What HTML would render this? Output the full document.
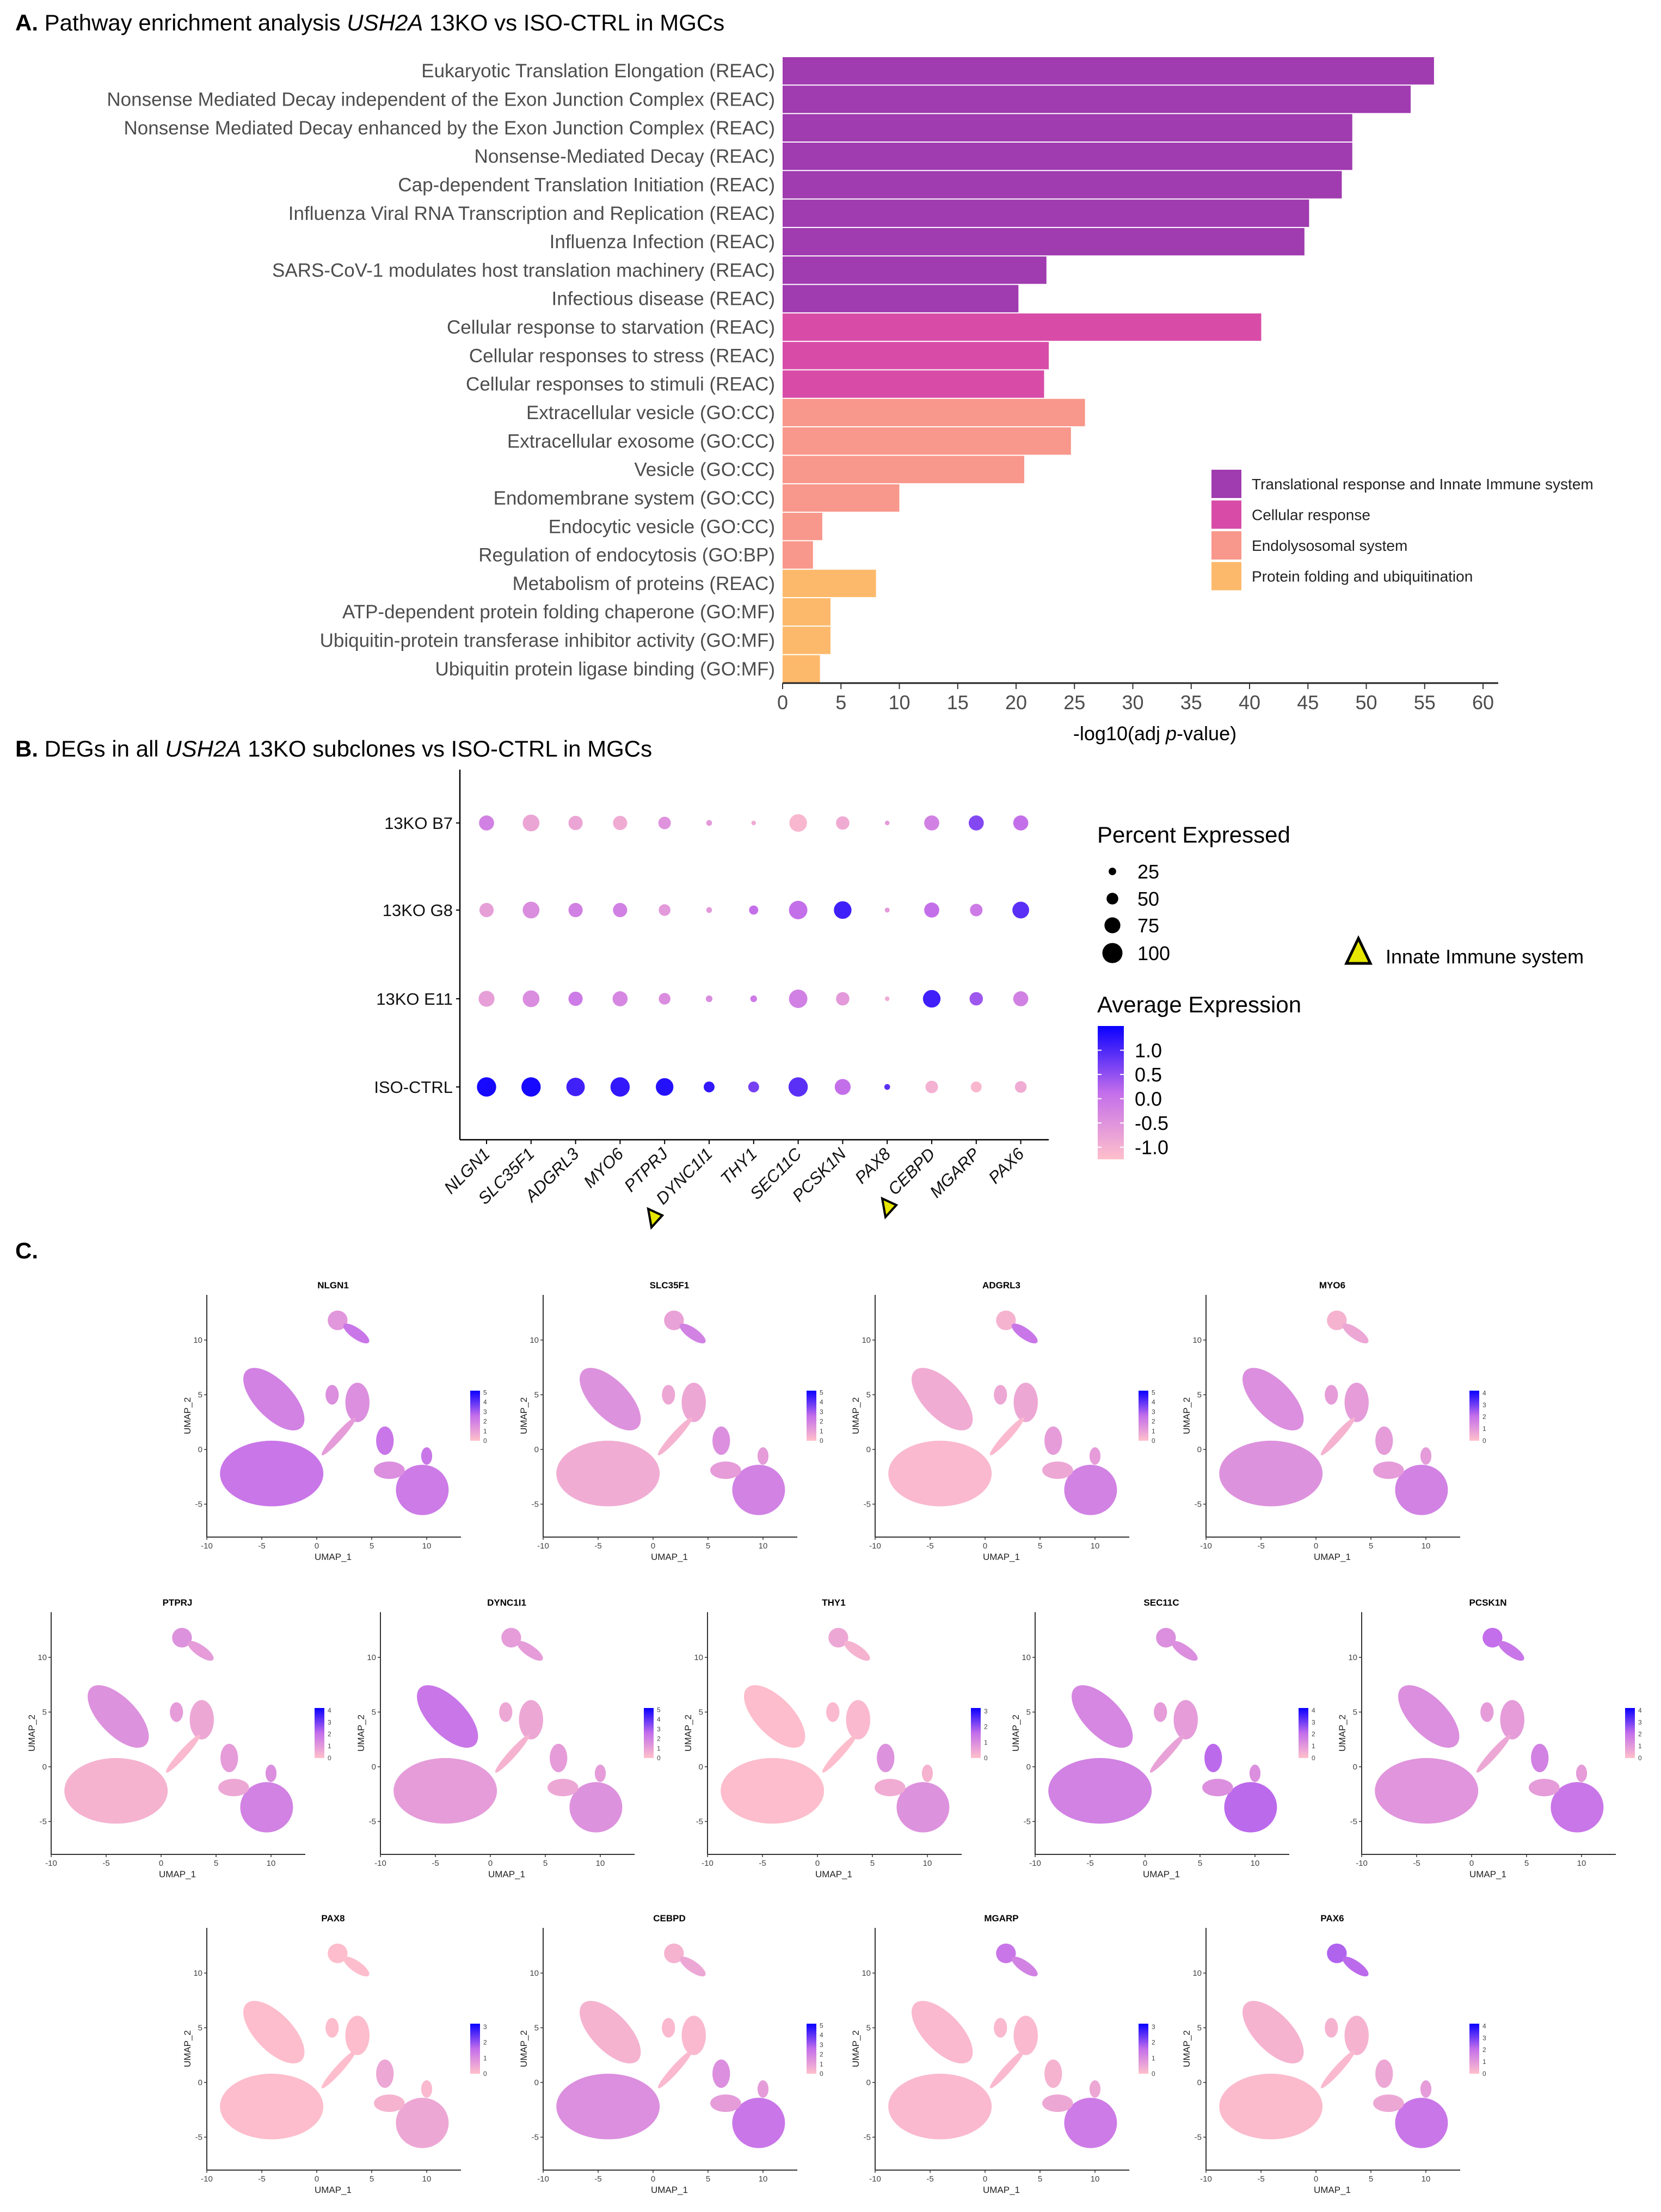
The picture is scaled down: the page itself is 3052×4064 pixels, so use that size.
<!DOCTYPE html>
<html><head><meta charset="utf-8">
<style>
html,body{margin:0;padding:0;background:#fff;}
svg{display:block;font-family:"Liberation Sans",Arial,sans-serif;}
</style></head>
<body>
<svg id="fig" xmlns="http://www.w3.org/2000/svg" width="3052" height="4064" viewBox="0 0 3052 4064">
<rect width="3052" height="4064" fill="#fff"/>
<g id="panelA">
  <text x="28" y="56" font-size="42" fill="#000"><tspan font-weight="bold">A.</tspan>  Pathway enrichment analysis <tspan font-style="italic">USH2A</tspan> 13KO vs ISO-CTRL in MGCs</text>
</g>
<g id="panelB">
  <text x="28" y="1390" font-size="42" fill="#000"><tspan font-weight="bold">B.</tspan>  DEGs in all <tspan font-style="italic">USH2A</tspan> 13KO subclones vs ISO-CTRL in MGCs</text>
</g>
<g id="panelC">
  <text x="28" y="2312" font-size="42" font-weight="bold" fill="#000">C.</text>
</g>
</svg>
<script>
// ---------- Panel A data ----------
const pathways = ["Eukaryotic Translation Elongation (REAC)","Nonsense Mediated Decay independent of the Exon Junction Complex (REAC)","Nonsense Mediated Decay enhanced by the Exon Junction Complex (REAC)","Nonsense-Mediated Decay (REAC)","Cap-dependent Translation Initiation (REAC)","Influenza Viral RNA Transcription and Replication (REAC)","Influenza Infection (REAC)","SARS-CoV-1 modulates host translation machinery (REAC)","Infectious disease (REAC)","Cellular response to starvation (REAC)","Cellular responses to stress (REAC)","Cellular responses to stimuli (REAC)","Extracellular vesicle (GO:CC)","Extracellular exosome (GO:CC)","Vesicle (GO:CC)","Endomembrane system (GO:CC)","Endocytic vesicle (GO:CC)","Regulation of endocytosis (GO:BP)","Metabolism of proteins (REAC)","ATP-dependent protein folding chaperone (GO:MF)","Ubiquitin-protein transferase inhibitor activity (GO:MF)","Ubiquitin protein ligase binding (GO:MF)"];
const pathwayValues = [55.8,53.8,48.8,48.8,47.9,45.1,44.7,22.6,20.2,41.0,22.8,22.4,25.9,24.7,20.7,10.0,3.4,2.6,8.0,4.1,4.1,3.2];
const pathwayGroup = [0,0,0,0,0,0,0,0,0,1,1,1,2,2,2,2,2,2,3,3,3,3];
const groupNames = ["Translational response and Innate Immune system","Cellular response","Endolysosomal system","Protein folding and ubiquitination"];
const groupColors = ["#A03BB0","#D84CA8","#F8978B","#FDB96B"];
const xTicksA = [0,5,10,15,20,25,30,35,40,45,50,55,60];

// ---------- Panel B data ----------
const genes = ["NLGN1","SLC35F1","ADGRL3","MYO6","PTPRJ","DYNC1I1","THY1","SEC11C","PCSK1N","PAX8","CEBPD","MGARP","PAX6"];
const groups = ["13KO B7","13KO G8","13KO E11","ISO-CTRL"];
const avgB7  = [-0.2,-0.8,-0.8,-0.9,-0.5,-0.6,-0.9,-1.1,-0.9,-0.6,-0.2,0.6,0.1];
const avgG8  = [-0.7,-0.4,-0.2,-0.2,-0.6,-0.6,0.1,0.1,1.1,-0.6,0.1,-0.1,0.9];
const avgE11 = [-0.7,-0.4,-0.1,-0.3,-0.4,-0.4,-0.1,-0.2,-0.6,-0.9,1.1,0.4,-0.2];
const avgISO = [1.4,1.4,1.1,1.2,1.3,1.2,0.7,0.9,0.1,0.9,-1.0,-1.1,-0.9];
const pctB7  = [70,80,65,65,55,15,8,85,60,8,70,70,70];
const pctG8  = [65,80,65,65,50,15,35,90,85,10,70,55,80];
const pctE11 = [75,80,65,70,50,20,20,90,60,8,85,60,70];
const pctISO = [95,95,90,95,85,45,45,95,75,15,55,45,50];
const pctLegend = [25,50,75,100];
const avgLegend = [1.0,0.5,0.0,-0.5,-1.0];

// ---------- Panel C data ----------
const umapGenes = ["NLGN1","SLC35F1","ADGRL3","MYO6","PTPRJ","DYNC1I1","THY1","SEC11C","PCSK1N","PAX8","CEBPD","MGARP","PAX6"];
const umapMax = [5,5,5,4,4,5,3,4,4,3,5,3,4];
// clusters: bigLeft, upperLeft, topBlob, topTail, hook, hookTop, tail, rightBlob, rightMid, rightSmall1, rightSmall2
const clusterCx = [-4.1,-3.9,1.9,3.6,3.7,1.4,2.0,9.6,6.6,6.2,10.0];
const clusterCy = [-2.2,4.6,11.8,10.6,4.3,5.0,1.2,-3.7,-1.9,0.8,-0.6];
const clusterRx = [4.7,3.6,0.9,1.4,1.1,0.6,2.3,2.4,1.4,0.8,0.5];
const clusterRy = [3.0,1.7,0.9,0.5,1.8,0.9,0.35,2.3,0.8,1.3,0.8];
const clusterRot = [0,-46,0,-35,0,0,48,0,0,0,0];
const exprNLGN1  = [0.45,0.38,0.25,0.45,0.30,0.30,0.22,0.42,0.30,0.45,0.45];
const exprSLC35F1= [0.12,0.28,0.18,0.38,0.15,0.15,0.08,0.38,0.22,0.30,0.22];
const exprADGRL3 = [0.04,0.12,0.08,0.45,0.15,0.15,0.04,0.38,0.15,0.22,0.22];
const exprMYO6   = [0.28,0.30,0.08,0.15,0.22,0.22,0.08,0.38,0.22,0.22,0.22];
const exprPTPRJ  = [0.08,0.28,0.28,0.22,0.15,0.22,0.04,0.38,0.15,0.22,0.30];
const exprDYNC1I1= [0.22,0.45,0.22,0.22,0.15,0.15,0.08,0.28,0.15,0.22,0.22];
const exprTHY1   = [0.02,0.02,0.15,0.08,0.04,0.04,0.02,0.28,0.12,0.28,0.08];
const exprSEC11C = [0.38,0.35,0.30,0.30,0.22,0.22,0.18,0.52,0.30,0.52,0.30];
const exprPCSK1N = [0.26,0.30,0.50,0.45,0.22,0.22,0.15,0.45,0.22,0.38,0.22];
const exprPAX8   = [0.02,0.02,0.02,0.02,0.02,0.02,0.02,0.15,0.08,0.15,0.04];
const exprCEBPD  = [0.30,0.08,0.08,0.15,0.04,0.04,0.04,0.45,0.22,0.30,0.22];
const exprMGARP  = [0.04,0.04,0.45,0.38,0.04,0.04,0.04,0.42,0.15,0.08,0.15];
const exprPAX6   = [0.03,0.08,0.55,0.52,0.08,0.08,0.04,0.45,0.15,0.15,0.22];
const umapTitleX = [612,1230,1840,2448, 326,931,1532,2134,2734, 612,1230,1840,2448];
const umapTitleY = [2361,2361,2361,2361, 2944,2944,2944,2944,2944, 3524,3524,3524,3524];

const NS="http://www.w3.org/2000/svg";
function mk(tag,attrs,parent,txt){const e=document.createElementNS(NS,tag);for(const k in attrs)e.setAttribute(k,attrs[k]);if(txt!==undefined)e.textContent=txt;parent.appendChild(e);return e;}
function mix(t){t=Math.max(0,Math.min(1,t));const a=[255,192,203],b=[10,0,255];
  const m=[195,110,235];let c;
  if(t<0.5){const u=t/0.5;c=a.map((v,i)=>v+(m[i]-v)*u);}else{const u=(t-0.5)/0.5;c=m.map((v,i)=>v+(b[i]-v)*u);}
  return "rgb("+c.map(v=>Math.round(v)).join(",")+")";}

// ---------- Panel A ----------
(function(){
  const g=document.getElementById('panelA');
  const x0=1438, pxPerUnit=(2725-1438)/60, top=104, pitch=(1255-104)/22, bh=pitch-2;
  const X=v=>x0+v*pxPerUnit;
  pathways.forEach((p,i)=>{
    const y=top+i*pitch;
    const r=mk('rect',{x:X(0),y:y+1,width:X(pathwayValues[i])-X(0),height:bh,fill:groupColors[pathwayGroup[i]]},g);
    
    
    const t=mk('text',{x:1424,y:y+pitch/2+12,'font-size':35,'text-anchor':'end',fill:'#4d4d4d'},g,p);
    
    
  });
  const ax=mk('line',{x1:X(0),y1:1255,x2:X(61.3),y2:1255,stroke:'#222','stroke-width':3},g);
  
  
  xTicksA.forEach(v=>{
    mk('line',{x1:X(v),y1:1255,x2:X(v),y2:1266,stroke:'#333','stroke-width':2},g);
    const t=mk('text',{x:X(v),y:1303,'font-size':36,'text-anchor':'middle',fill:'#4d4d4d'},g,String(v));
    
    
  });
  const at=mk('text',{x:2122,y:1360,'font-size':36,'text-anchor':'middle',fill:'#000'},g);
  
  
  at.innerHTML='-log10(adj <tspan font-style="italic">p</tspan>-value)';
  groupNames.forEach((n,i)=>{
    const y=863+i*56.5;
    const r=mk('rect',{x:2226,y:y,width:55,height:52,fill:groupColors[i]},g);
    
    
    const t=mk('text',{x:2300,y:y+36,'font-size':28,fill:'#222'},g,n);
    
    
  });
})();

// ---------- Panel B ----------
(function(){
  const g=document.getElementById('panelB');
  const colX=i=>894+i*81.8;
  const rowY=[1512,1672,1835,1997];
  const avgRows=[avgB7,avgG8,avgE11,avgISO], pctRows=[pctB7,pctG8,pctE11,pctISO];
  const rad=p=>3+p*0.155;
  const colr=v=>mix((Math.max(-1.25,Math.min(1.5,v))+1.25)/2.75);
  mk('line',{x1:845,y1:1414,x2:845,y2:2094,stroke:'#000','stroke-width':2.5},g);
  mk('line',{x1:845,y1:2094,x2:1927,y2:2094,stroke:'#000','stroke-width':2.5},g);
  groups.forEach((gr,r)=>{
    mk('line',{x1:838,y1:rowY[r],x2:845,y2:rowY[r],stroke:'#000','stroke-width':2},g);
    const t=mk('text',{x:832,y:rowY[r]+11,'font-size':31,'text-anchor':'end',fill:'#111'},g,gr);
    
    
    genes.forEach((gn,c)=>{
      const d=mk('circle',{cx:colX(c),cy:rowY[r],r:rad(pctRows[r][c]),fill:colr(avgRows[r][c])},g);
      
      
    });
  });
  genes.forEach((gn,c)=>{
    mk('line',{x1:colX(c),y1:2094,x2:colX(c),y2:2102,stroke:'#000','stroke-width':2},g);
    const t=mk('text',{x:colX(c)+8,y:2122,'font-size':31,'font-style':'italic','text-anchor':'end',fill:'#111',transform:'rotate(-45 '+(colX(c)+8)+' 2122)'},g,gn);
    
    
  });
  [[1203,2241],[1633,2222]].forEach(p=>{
    const tr=mk('polygon',{points:(p[0]-12)+','+(p[1]-20)+' '+(p[0]+14)+','+(p[1]-8)+' '+(p[0]-6)+','+(p[1]+14),fill:'#E6E600',stroke:'#000','stroke-width':4},g);
    
    
  });
  let t=mk('text',{x:2016,y:1548,'font-size':42,fill:'#000'},g,'Percent Expressed');
  
  
  pctLegend.forEach((p,i)=>{
    const y=[1601,1651,1700,1751][i];
    mk('circle',{cx:2044,cy:y,r:rad(p),fill:'#000'},g);
    const l=mk('text',{x:2090,y:y+13,'font-size':36,fill:'#000'},g,String(p));
    
    
  });
  const tri=mk('polygon',{points:'2496,1724 2518,1770 2474,1770',fill:'#E6E600',stroke:'#000','stroke-width':5},g);
  
  
  t=mk('text',{x:2546,y:1770,'font-size':36,fill:'#000'},g,'Innate Immune system');
  
  
  t=mk('text',{x:2016,y:1860,'font-size':42,fill:'#000'},g,'Average Expression');
  
  
  const defs=mk('defs',{},g);
  const lg=mk('linearGradient',{id:'avgGrad',x1:0,y1:1,x2:0,y2:0},defs);
  for(let i=0;i<=10;i++)mk('stop',{offset:i/10,'stop-color':mix(i/10)},lg);
  const cb=mk('rect',{x:2017,y:1885,width:48,height:245,fill:'url(#avgGrad)'},g);
  
  
  avgLegend.forEach(v=>{
    const y=1885+245*(1-(v+1.25)/2.75);
    mk('line',{x1:2017,y1:y,x2:2024,y2:y,stroke:'#fff','stroke-width':2},g);
    mk('line',{x1:2058,y1:y,x2:2065,y2:y,stroke:'#fff','stroke-width':2},g);
    const l=mk('text',{x:2085,y:y+13,'font-size':36,fill:'#000'},g,v.toFixed(1));
    
    
  });
})();

// ---------- Panel C ----------
(function(){
  const g=document.getElementById('panelC');
  const exprAll=[exprNLGN1,exprSLC35F1,exprADGRL3,exprMYO6,exprPTPRJ,exprDYNC1I1,exprTHY1,exprSEC11C,exprPCSK1N,exprPAX8,exprCEBPD,exprMGARP,exprPAX6];
  const defs=mk('defs',{},g);
  const lg=mk('linearGradient',{id:'umGrad',x1:0,y1:1,x2:0,y2:0},defs);
  for(let i=0;i<=10;i++)mk('stop',{offset:i/10,'stop-color':mix(i/10)},lg);
  umapGenes.forEach((gn,k)=>{
    const tx=umapTitleX[k], ty=umapTitleY[k];
    const pg=mk('g',{},g);
    
    
    const X=u=>tx-232+(u+10)*20.2, Y=u=>ty+302-u*20.1;
    let t=mk('text',{x:tx,y:ty+6,'font-size':17,'font-weight':'bold','text-anchor':'middle',fill:'#000'},pg,gn);
    
    
    clusterCx.forEach((cx,c)=>{
      const px=X(cx), py=Y(clusterCy[c]);
      const e=mk('ellipse',{cx:px,cy:py,rx:clusterRx[c]*20.2,ry:clusterRy[c]*20.1,fill:mix(exprAll[k][c]),transform:'rotate('+(-clusterRot[c])+' '+px+' '+py+')'},pg);
      
      
    });
    mk('line',{x1:tx-232,y1:ty+18,x2:tx-232,y2:ty+463,stroke:'#333','stroke-width':2},pg);
    mk('line',{x1:tx-232,y1:ty+463,x2:tx+235,y2:ty+463,stroke:'#333','stroke-width':2},pg);
    [-10,-5,0,5,10].forEach(v=>{
      mk('line',{x1:X(v),y1:ty+463,x2:X(v),y2:ty+468,stroke:'#333','stroke-width':1.5},pg);
      mk('text',{x:X(v),y:ty+484,'font-size':15,'text-anchor':'middle',fill:'#444'},pg,String(v));
    });
    [10,5,0,-5].forEach(v=>{
      mk('line',{x1:tx-237,y1:Y(v),x2:tx-232,y2:Y(v),stroke:'#333','stroke-width':1.5},pg);
      mk('text',{x:tx-240,y:Y(v)+5,'font-size':15,'text-anchor':'end',fill:'#444'},pg,String(v));
    });
    t=mk('text',{x:tx,y:ty+505,'font-size':17,'text-anchor':'middle',fill:'#222'},pg,'UMAP_1');
    
    
    t=mk('text',{x:tx-262,y:ty+240,'font-size':17,'text-anchor':'middle',fill:'#222',transform:'rotate(-90 '+(tx-262)+' '+(ty+240)+')'},pg,'UMAP_2');
    
    
    const cb=mk('rect',{x:tx+252,y:ty+194,width:18,height:92,fill:'url(#umGrad)'},pg);
    
    
    for(let v=0;v<=umapMax[k];v++){
      const y=ty+286-v*(92/(umapMax[k]+0.2));
      mk('text',{x:tx+276,y:y+4,'font-size':12,fill:'#444'},pg,String(v));
    }
  });
})();
</script>
</body></html>
